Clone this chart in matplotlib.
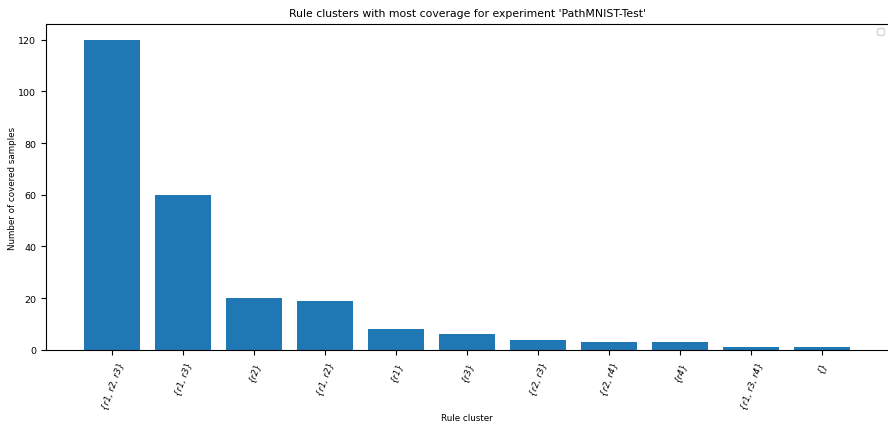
import matplotlib
matplotlib.use("Agg")
import matplotlib.pyplot as plt

clusters = ["{r1, r2, r3}", "{r1, r3}", "{r2}", "{r1, r2}", "{r1}", "{r3}",
            "{r2, r3}", "{r2, r4}", "{r4}", "{r1, r3, r4}", "{}"]
counts = [120, 60, 20, 19, 8, 6, 4, 3, 3, 1, 1]

fig = plt.figure(figsize=(8.88, 4.27), dpi=100)
ax = fig.add_axes([0.0518, 0.178, 0.9482, 0.7635])
x = list(range(len(clusters)))
ax.bar(x, counts, width=0.8, color="#1f77b4")
ax.set_xticks(x)
ax.set_xticklabels(clusters, rotation=70, fontsize=6.3, fontstyle="italic")
ax.set_xlim(-0.93, len(clusters) - 1 + 0.93)
ax.set_ylim(0, 126)
ax.set_yticks([0, 20, 40, 60, 80, 100, 120])
ax.tick_params(axis="y", labelsize=6.8)
ax.set_xlabel("Rule cluster", fontsize=6.3, labelpad=2)
ax.set_ylabel("Number of covered samples", fontsize=6.3, labelpad=1)
ax.set_title("Rule clusters with most coverage for experiment 'PathMNIST-Test'", fontsize=7.8)
ax.spines["right"].set_visible(False)
ax.legend(loc="upper right", fontsize=6)
fig.savefig("out.png", dpi=100)
